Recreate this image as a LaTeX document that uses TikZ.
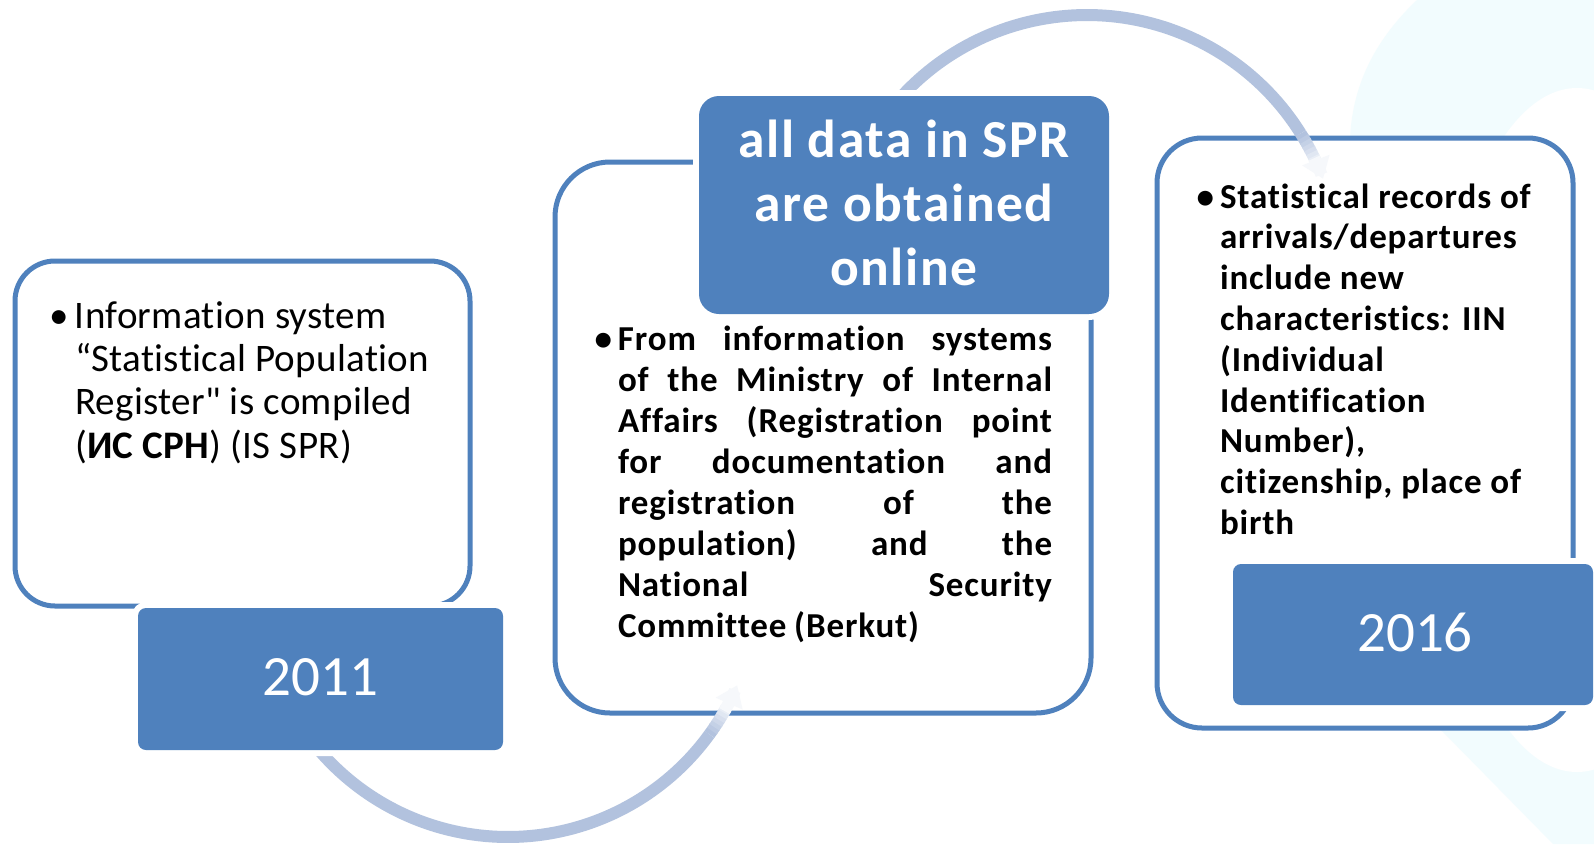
\documentclass[tikz,border=0pt]{standalone}
\usepackage{fontspec}
\setmainfont{Carlito}[Ligatures={TeXOff,CommonOff}]
\usetikzlibrary{arrows.meta}
\definecolor{mainblue}{HTML}{4F81BD}
\definecolor{arcc}{HTML}{B2C2DE}
\definecolor{palebg}{HTML}{F2FCFE}
\tikzset{
  whitebox/.style={draw=mainblue, line width=5pt, fill=white, inner sep=0pt, outer sep=0pt},
  darkbox/.style={fill=mainblue, draw=none, inner sep=0pt, outer sep=0pt, preaction={draw=white, line width=12pt}},
  txt/.style={inner sep=0pt, outer sep=0pt, anchor=base west},
  arcline/.style={line width=12pt, line cap=butt},
  yeartxt/.style={inner sep=0pt, outer sep=0pt, text=white, font=\fontsize{57}{68}\selectfont},
}
\begin{document}
\begin{tikzpicture}[x=1pt,y=-1pt]
\useasboundingbox (0,0) rectangle (1594,844);
\fill[white] (0,0) rectangle (1594,844);
% faint background
\fill[palebg] (1417,0) .. controls (1380,35) and (1352,80) .. (1350,140) -- (1350,600)
  .. controls (1360,680) and (1400,700) .. (1443,732) -- (1553,844) -- (1594,844) -- (1594,0) -- cycle;
\fill[white] (1577,430) ellipse [x radius=142, y radius=342];

% white boxes
\node[whitebox, minimum width=455pt, minimum height=345pt, rounded corners=40pt] (b1) at (242.5,433.5) {};
\node[whitebox, minimum width=536pt, minimum height=551pt, rounded corners=55pt] (b2) at (823,437.5) {};
\node[whitebox, minimum width=416pt, minimum height=590pt, rounded corners=45pt] (b3) at (1365,433) {};

% upper arc
\draw[arcline, arcc] plot[domain=-150:-32, samples=80] ({1087+252*cos(\x)},{267+252*sin(\x)});
\foreach \i in {0,...,6}{
  \pgfmathsetmacro\a{-32+\i}
  \pgfmathsetmacro\b{-32+\i+1.2}
  \pgfmathsetmacro\p{100-\i*12}
  \draw[arcline, color=arcc!\p!white] plot[domain=\a:\b, samples=4] ({1087+252*cos(\x)},{267+252*sin(\x)});
}
\draw[arcline, color=arcc!12!white, -{Triangle[length=20pt,width=28pt]}] plot[domain=-25.6:-20.5, samples=6] ({1087+252*cos(\x)},{267+252*sin(\x)});

% lower arc
\draw[arcline, arcc] plot[domain=36:150, samples=80] ({508+249*cos(\x)},{588+249*sin(\x)});
\foreach \i in {0,...,6}{
  \pgfmathsetmacro\a{36-\i}
  \pgfmathsetmacro\b{36-\i-1.2}
  \pgfmathsetmacro\p{100-\i*12}
  \draw[arcline, color=arcc!\p!white] plot[domain=\b:\a, samples=4] ({508+249*cos(\x)},{588+249*sin(\x)});
}
\draw[arcline, color=arcc!12!white, -{Triangle[length=20pt,width=28pt]}] plot[domain=0:1, samples=6] ({508+249*cos(29.6-6.6*\x)},{588+249*sin(29.6-6.6*\x)});

% dark boxes
\node[darkbox, minimum width=365pt, minimum height=142pt, rounded corners=8pt] (d1) at (320.5,679) {};
\node[darkbox, minimum width=410pt, minimum height=218pt, rounded corners=20pt] (d2) at (904,205) {};
\node[darkbox, minimum width=360pt, minimum height=141pt, rounded corners=8pt] (d3) at (1413,634.5) {};

% texts
\node[yeartxt] (y1) at (320.5,677) {2011};
\node[yeartxt] (y3) at (1415,632) {2016};

\node[txt, text=white, font=\bfseries\addfontfeatures{LetterSpace=3}\fontsize{53.5}{64}\selectfont] (h2) at (699,157)
  {\vtop{\hbox to 410pt{\hfil all data in SPR\hfil}\hbox to 410pt{\hfil are obtained\hfil}\hbox to 410pt{\hfil online\hfil}}};

\node[txt, font=\addfontfeatures{LetterSpace=0.8}\fontsize{39}{43.4}\selectfont] (t1) at (75,328)
  {\vtop{\hbox{\llap{•\hskip 6pt}Information system}\hbox{“Statistical Population}\hbox{Register" is compiled}\hbox{(\textbf{ИС СРН}) (IS SPR)}}};

\node[txt, font=\bfseries\addfontfeatures{LetterSpace=2.5}\fontsize{35}{41}\selectfont] (t2) at (618,350)
  {\vtop{\spaceskip=.22em plus 1fil
  \hbox to 434pt{\llap{•\hskip 6pt}From information systems}
  \hbox to 434pt{of the Ministry of Internal}
  \hbox to 434pt{Affairs (Registration point}
  \hbox to 434pt{for documentation and}
  \hbox to 434pt{registration of the}
  \hbox to 434pt{population) and the}
  \hbox to 434pt{National Security}
  \hbox{Committee (Berkut)}}};

\node[txt, font=\bfseries\addfontfeatures{LetterSpace=2.5}\fontsize{35}{40.8}\selectfont] (t3) at (1220,208)
  {\vtop{\hbox{\llap{•\hskip 6pt}Statistical records of}\hbox{arrivals/departures}\hbox{include new}\hbox{characteristics: IIN}\hbox{(Individual}\hbox{Identification}\hbox{Number),}\hbox{citizenship, place of}\hbox{birth}}};
\end{tikzpicture}
\end{document}
